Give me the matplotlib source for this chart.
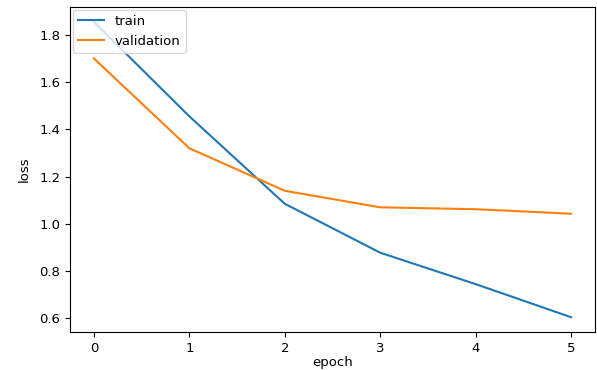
import matplotlib
matplotlib.use("Agg")
import matplotlib.pyplot as plt

epochs = [0, 1, 2, 3, 4, 5]
train_loss = [1.855, 1.455, 1.085, 0.878, 0.745, 0.605]
val_loss = [1.70, 1.32, 1.14, 1.07, 1.062, 1.043]

fs = 9.5
fig = plt.figure(figsize=(5.97, 3.70), dpi=100)
ax = fig.add_axes([70/597, 38/370, 525/597, 325/370])
ax.plot(epochs, train_loss, label="train")
ax.plot(epochs, val_loss, label="validation")
ax.set_xlabel("epoch", fontsize=fs, labelpad=1)
ax.set_ylabel("loss", fontsize=fs, labelpad=6)
ax.tick_params(labelsize=fs)
ax.legend(loc="upper left", fontsize=fs, borderaxespad=0.2)
fig.savefig("out.png", dpi=100)
